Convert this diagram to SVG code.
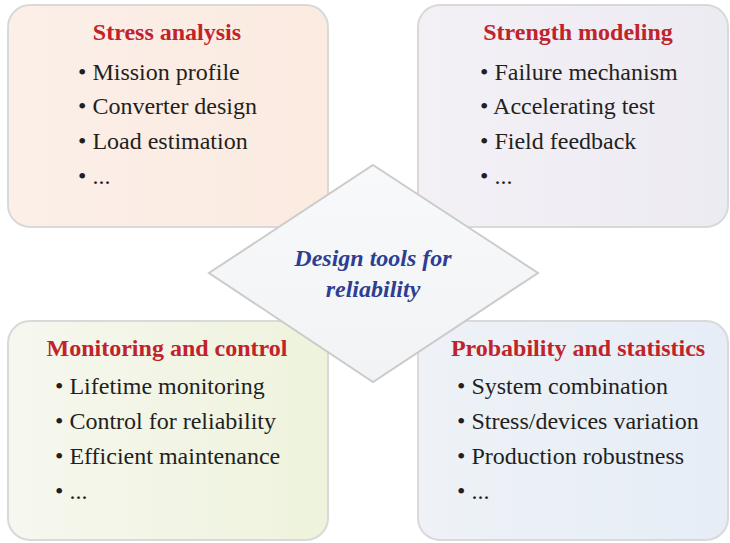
<svg xmlns="http://www.w3.org/2000/svg" width="730" height="543" viewBox="0 0 730 543">
<defs>
<linearGradient id="gTL" x1="0" y1="0" x2="1" y2="0"><stop offset="0" stop-color="#fbefe8"/><stop offset="1" stop-color="#fbebe1"/></linearGradient>
<linearGradient id="gTR" x1="0" y1="0" x2="1" y2="0"><stop offset="0" stop-color="#f3f1f6"/><stop offset="1" stop-color="#edebf2"/></linearGradient>
<linearGradient id="gBL" x1="0" y1="0" x2="1" y2="0"><stop offset="0" stop-color="#f6f7ef"/><stop offset="1" stop-color="#eef3dc"/></linearGradient>
<linearGradient id="gBR" x1="0" y1="0" x2="1" y2="0"><stop offset="0" stop-color="#eef2f7"/><stop offset="1" stop-color="#e6edf6"/></linearGradient>
<linearGradient id="gD" x1="0" y1="0" x2="0" y2="1"><stop offset="0" stop-color="#f8f9fb"/><stop offset="1" stop-color="#f2f3f4"/></linearGradient>
</defs>
<style>
.box{stroke:#d9d9d9;stroke-width:2}
.title{font-family:"Liberation Serif","Times New Roman",serif;font-weight:bold;font-size:24px;fill:#c1232b;text-anchor:middle}
.item{font-family:"Liberation Serif","Times New Roman",serif;font-size:24px;fill:#231f20}
.center{font-family:"Liberation Serif","Times New Roman",serif;font-weight:bold;font-style:italic;font-size:24px;fill:#2e3e92;text-anchor:middle}
</style>
<g id="stress-analysis">
<rect class="box" x="8" y="5" width="320" height="222" rx="22" fill="url(#gTL)"/>
<text class="title" x="167" y="40">Stress analysis</text>
<text class="item" x="78" y="80">• Mission profile</text>
<text class="item" x="78" y="114">• Converter design</text>
<text class="item" x="78" y="149">• Load estimation</text>
<text class="item" x="78" y="184">• ...</text>
</g>
<g id="strength-modeling">
<rect class="box" x="418" y="5" width="310" height="222" rx="22" fill="url(#gTR)"/>
<text class="title" x="578" y="40">Strength modeling</text>
<text class="item" x="480" y="80">• Failure mechanism</text>
<text class="item" x="480" y="114">• Accelerating test</text>
<text class="item" x="480" y="149">• Field feedback</text>
<text class="item" x="480" y="184">• ...</text>
</g>
<g id="monitoring-control">
<rect class="box" x="8" y="321" width="320" height="219" rx="22" fill="url(#gBL)"/>
<text class="title" x="167" y="356">Monitoring and control</text>
<text class="item" x="55" y="394">• Lifetime monitoring</text>
<text class="item" x="55" y="429">• Control for reliability</text>
<text class="item" x="55" y="464">• Efficient maintenance</text>
<text class="item" x="55" y="499">• ...</text>
</g>
<g id="probability-statistics">
<rect class="box" x="418" y="321" width="310" height="219" rx="22" fill="url(#gBR)"/>
<text class="title" x="578" y="356">Probability and statistics</text>
<text class="item" x="457" y="394">• System combination</text>
<text class="item" x="457" y="429">• Stress/devices variation</text>
<text class="item" x="457" y="464">• Production robustness</text>
<text class="item" x="457" y="499">• ...</text>
</g>
<g id="design-tools">
<polygon points="373,165 538,273 373,382 209,273" fill="url(#gD)" stroke="#cbcbcb" stroke-width="2"/>
<text class="center" x="373" y="266">Design tools for</text>
<text class="center" x="373" y="297">reliability</text>
</g>
<g id="connectors"/>
</svg>
